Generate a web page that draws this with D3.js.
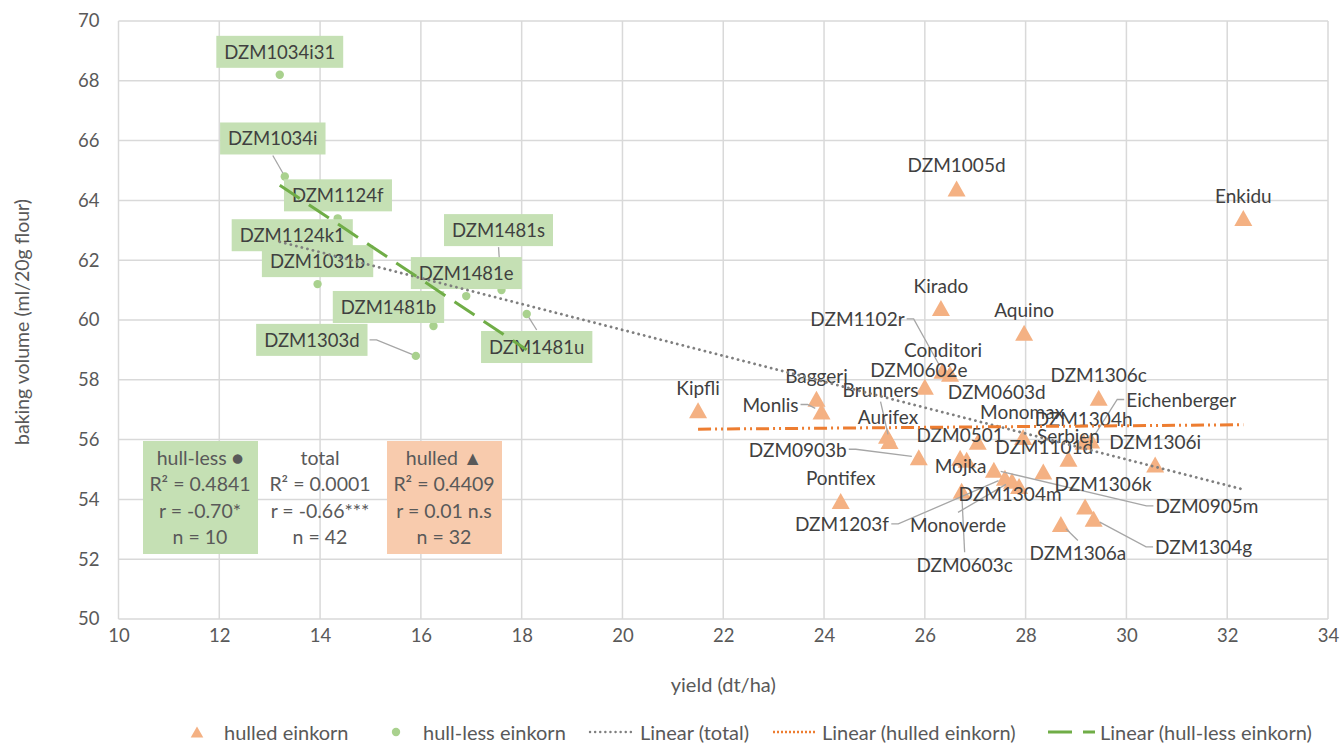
<!DOCTYPE html>
<html>
<head>
<meta charset="utf-8">
<script src="https://cdn.jsdelivr.net/npm/d3@7"></script>
<style>
  body { margin: 0; background: #fff; }
  text { font-family: Lato, "Open Sans", sans-serif; }
</style>
</head>
<body>
<div id="my_dataviz"></div>
<script>
// ---- data ----
var hulledNames = ["DZM1005d", "Enkidu", "Kirado", "Aquino", "DZM1102r", "Conditori", "DZM0602e", "Baggeri",
  "Monlis", "Kipfli", "Aurifex", "Brunners", "DZM0903b", "Pontifex", "DZM0603c", "DZM0501",
  "Mojka", "DZM0603d", "DZM0905m", "DZM1203f", "Monoverde", "DZM1304m", "Monomax", "DZM1101d",
  "Serbien", "DZM1304h", "Eichenberger", "DZM1306c", "DZM1306i", "DZM1306k", "DZM1304g", "DZM1306a"];
var hulledYield = [26.63, 32.32, 26.32, 27.97, 26.35, 26.5, 26.0, 23.85,
  23.95, 21.5, 25.25, 25.3, 25.88, 24.33, 26.73, 26.70,
  26.83, 27.05, 27.37, 27.59, 27.73, 27.87, 27.95, 28.35,
  28.85, 29.15, 29.3, 29.45, 30.57, 29.18, 29.35, 28.70];
var hulledVolume = [64.4, 63.41, 60.4, 59.57, 58.3, 58.2, 57.77, 57.37,
  56.94, 56.98, 56.13, 55.95, 55.41, 53.95, 54.29, 55.39,
  55.33, 55.93, 54.99, 54.72, 54.62, 54.45, 56.09, 54.93,
  55.36, 55.93, 55.97, 57.4, 55.17, 53.76, 53.35, 53.18];

var hulllessNames = ["DZM1034i31", "DZM1034i", "DZM1124f", "DZM1124k1", "DZM1031b",
  "DZM1481s", "DZM1481e", "DZM1481b", "DZM1303d", "DZM1481u"];
var hulllessYield = [13.2, 13.3, 14.35, 14.4, 13.95, 17.6, 16.9, 16.25, 15.9, 18.1];
var hulllessVolume = [68.2, 64.8, 63.4, 62.2, 61.2, 61.0, 60.8, 59.8, 58.8, 60.2];

var xTicks = [10, 12, 14, 16, 18, 20, 22, 24, 26, 28, 30, 32, 34];
var yTicks = [50, 52, 54, 56, 58, 60, 62, 64, 66, 68, 70];

var statHullless = ["hull-less \u25CF", "R\u00B2 = 0.4841", "r = -0.70*", "n = 10"];
var statTotal = ["total", "R\u00B2 = 0.0001", "r = -0.66***", "n = 42"];
var statHulled = ["hulled \u25B2", "R\u00B2 = 0.4409", "r = 0.01 n.s", "n = 32"];

var legendNames = ["hulled einkorn", "hull-less einkorn", "Linear (total)", "Linear (hulled einkorn)", "Linear (hull-less einkorn)"];

// ---- label placement (pixel offset from point, optional leader side) ----
var labelOffset = {
  "DZM1034i": [-12, -38, "b"], "DZM1124k1": [-48, -19], "DZM1481s": [-3, -60, "b"],
  "DZM1481b": [-45, -19], "DZM1303d": [-104, -16, "r"], "DZM1481u": [10, 33, "t"],
  "DZM1005d": [0, -24], "DZM1102r": [-85, -52, "r"], "Conditori": [-7, -24], "DZM0602e": [-6, -17],
  "Monlis": [-51, -7, "r"], "Aurifex": [1, -19], "Brunners": [-9, -52, "b"], "DZM0903b": [-121, -8, "r"],
  "DZM0603c": [3, 74, "t"], "Mojka": [-6, 6], "DZM0603d": [19, -50], "DZM0905m": [213, 36, "l"],
  "DZM1203f": [-163, 46, "r"], "Monoverde": [-54, 44, "t"], "DZM1304m": [-9, 8], "Monomax": [-1, -25],
  "DZM1101d": [1, -25], "Eichenberger": [90, -41, "l"], "DZM1306k": [18, -23],
  "DZM1304g": [110, 28, "l"], "DZM1306a": [17, 29, "t"]
};

var width = 1343, height = 743;
var plot = {left: 118.5, top: 21, right: 1328, bottom: 619};

var svg = d3.select("#my_dataviz")
  .append("svg")
    .attr("width", width)
    .attr("height", height);

var x = d3.scaleLinear().domain([10, 34]).range([plot.left, plot.right]);
var y = d3.scaleLinear().domain([50, 70]).range([plot.bottom, plot.top]);

// grid
svg.append("g").selectAll("line").data(yTicks).enter().append("line")
  .attr("x1", plot.left).attr("x2", plot.right)
  .attr("y1", function (d) { return y(d); }).attr("y2", function (d) { return y(d); })
  .attr("stroke", "#d9d9d9").attr("stroke-width", 1.5);
svg.append("g").selectAll("line").data(xTicks).enter().append("line")
  .attr("y1", plot.top).attr("y2", plot.bottom)
  .attr("x1", function (d) { return x(d); }).attr("x2", function (d) { return x(d); })
  .attr("stroke", "#d9d9d9").attr("stroke-width", 1.5);

// axes (labels only, Excel style)
var xAxis = svg.append("g")
  .attr("transform", "translate(0," + plot.bottom + ")")
  .call(d3.axisBottom(x).tickValues(xTicks).tickSize(0).tickPadding(10));
var yAxis = svg.append("g")
  .attr("transform", "translate(" + plot.left + ",0)")
  .call(d3.axisLeft(y).tickValues(yTicks).tickSize(0).tickPadding(19));
[xAxis, yAxis].forEach(function (a) {
  a.select(".domain").remove();
  a.selectAll("text").attr("font-family", "Lato").attr("font-size", 18.5).attr("fill", "#595959");
});

svg.append("text")
  .attr("x", (plot.left + plot.right) / 2).attr("y", 684)
  .attr("text-anchor", "middle").attr("dominant-baseline", "central")
  .attr("font-size", 20).attr("fill", "#595959")
  .text("yield (dt/ha)");
svg.append("text")
  .attr("transform", "translate(21," + ((plot.top + plot.bottom) / 2 + 2) + ") rotate(-90)")
  .attr("text-anchor", "middle").attr("dominant-baseline", "central")
  .attr("font-size", 19.5).attr("fill", "#595959")
  .text("baking volume (ml/20g flour)");

// stats boxes
function statBox(lines, cx, fill) {
  if (fill) {
    svg.append("rect").attr("x", cx - 57).attr("y", 441).attr("width", 115).attr("height", 113).attr("fill", fill);
  }
  lines.forEach(function (s, i) {
    svg.append("text")
      .attr("x", cx).attr("y", 457 + i * 26.6)
      .attr("text-anchor", "middle").attr("dominant-baseline", "central")
      .attr("font-size", 19.5).attr("fill", "#595959")
      .text(s);
  });
}
statBox(statHullless, 200, "#c5e0b4");
statBox(statTotal, 320, null);
statBox(statHulled, 444, "#f8cbad");

// markers
var triPath = "M0,-8L9,8L-9,8Z";
var markerLayer = svg.append("g");
markerLayer.selectAll("path").data(hulledNames).enter().append("path")
  .attr("d", triPath)
  .attr("transform", function (d, i) { return "translate(" + x(hulledYield[i]) + "," + y(hulledVolume[i]) + ")"; })
  .attr("fill", "#f4b183");
markerLayer.selectAll("circle").data(hulllessNames).enter().append("circle")
  .attr("cx", function (d, i) { return x(hulllessYield[i]); })
  .attr("cy", function (d, i) { return y(hulllessVolume[i]); })
  .attr("r", 4.2)
  .attr("fill", "#a9d18e");

// data labels
var labelLayer = svg.append("g");
function drawLabels(names, xs, ys, boxed) {
  names.forEach(function (name, i) {
    var px = x(xs[i]), py = y(ys[i]);
    var o = labelOffset[name] || [0, -23];
    var lx = px + o[0], ly = py + o[1];
    var grp = labelLayer.append("g");
    var t = grp.append("text")
      .attr("x", lx).attr("y", ly)
      .attr("text-anchor", "middle").attr("dominant-baseline", "central")
      .attr("font-size", boxed ? 18.5 : 19).attr("fill", "#404040")
      .text(name);
    var bb = t.node().getBBox();
    var bx0 = bb.x, bx1 = bb.x + bb.width, by0 = bb.y, by1 = bb.y + bb.height;
    if (boxed) {
      bx0 -= 8; bx1 += 8; by0 = ly - 16; by1 = ly + 16;
      grp.insert("rect", "text")
        .attr("x", bx0).attr("y", by0).attr("width", bx1 - bx0).attr("height", by1 - by0)
        .attr("fill", "#c5e0b4");
    }
    if (o[2]) {
      var pts;
      if (o[2] === "r") pts = [[bx1 + 2, ly], [bx1 + 9, ly]];
      else if (o[2] === "l") pts = [[bx0 - 2, ly], [bx0 - 9, ly]];
      else if (o[2] === "t") pts = [[lx, by0 - 1]];
      else pts = [[lx, by1 + 1]];
      var last = pts[pts.length - 1];
      var dx = px - last[0], dy = py - last[1], len = Math.sqrt(dx * dx + dy * dy);
      var cut = boxed ? 4 : 7;
      pts.push([px - dx / len * cut, py - dy / len * cut]);
      labelLayer.insert("path", "g")
        .attr("d", d3.line()(pts))
        .attr("fill", "none").attr("stroke", "#a6a6a6").attr("stroke-width", 1.3);
    }
  });
}
drawLabels(hulledNames, hulledYield, hulledVolume, false);
drawLabels(hulllessNames, hulllessYield, hulllessVolume, true);

// linear trend lines (least squares from the data)
function trend(xs, ys) {
  var mx = d3.mean(xs), my = d3.mean(ys);
  var sxy = d3.sum(xs, function (v, i) { return (v - mx) * (ys[i] - my); });
  var sxx = d3.sum(xs, function (v) { return (v - mx) * (v - mx); });
  var b = sxy / sxx, a = my - b * mx;
  var ext = d3.extent(xs);
  return ext.map(function (v) { return [x(v), y(a + b * v)]; });
}
var allYield = hulledYield.concat(hulllessYield);
var allVolume = hulledVolume.concat(hulllessVolume);

svg.append("path").attr("d", d3.line()(trend(allYield, allVolume)))
  .attr("stroke", "#7f7f7f").attr("stroke-width", 2.8).attr("fill", "none")
  .attr("stroke-dasharray", "0.1,5.6").attr("stroke-linecap", "round");
svg.append("path").attr("d", d3.line()(trend(hulledYield, hulledVolume)))
  .attr("stroke", "#ed7d31").attr("stroke-width", 3).attr("fill", "none")
  .attr("stroke-dasharray", "13,4,2,4,2,4");
svg.append("path").attr("d", d3.line()(trend(hulllessYield, hulllessVolume)))
  .attr("stroke", "#70ad47").attr("stroke-width", 3).attr("fill", "none")
  .attr("stroke-dasharray", "24,11");

// legend
var legY = 732;
var leg = svg.append("g");
var legX = [224, 423, 640, 822, 1100];
leg.append("path").attr("d", triPath).attr("transform", "translate(197," + legY + ") scale(0.7)").attr("fill", "#f4b183");
leg.append("circle").attr("cx", 396).attr("cy", legY).attr("r", 4.2).attr("fill", "#a9d18e");
leg.append("line").attr("x1", 590).attr("x2", 631).attr("y1", legY).attr("y2", legY)
  .attr("stroke", "#7f7f7f").attr("stroke-width", 2.4).attr("stroke-dasharray", "0.1,5").attr("stroke-linecap", "round");
leg.append("line").attr("x1", 773).attr("x2", 815).attr("y1", legY).attr("y2", legY)
  .attr("stroke", "#ed7d31").attr("stroke-width", 2.4).attr("stroke-dasharray", "2,2");
leg.append("line").attr("x1", 1048).attr("x2", 1095).attr("y1", legY).attr("y2", legY)
  .attr("stroke", "#70ad47").attr("stroke-width", 3).attr("stroke-dasharray", "24,11");
leg.selectAll("text").data(legendNames).enter().append("text")
  .attr("x", function (d, i) { return legX[i]; }).attr("y", legY)
  .attr("dominant-baseline", "central")
  .attr("font-size", 20).attr("fill", "#595959")
  .text(function (d) { return d; });
</script>
</body>
</html>
